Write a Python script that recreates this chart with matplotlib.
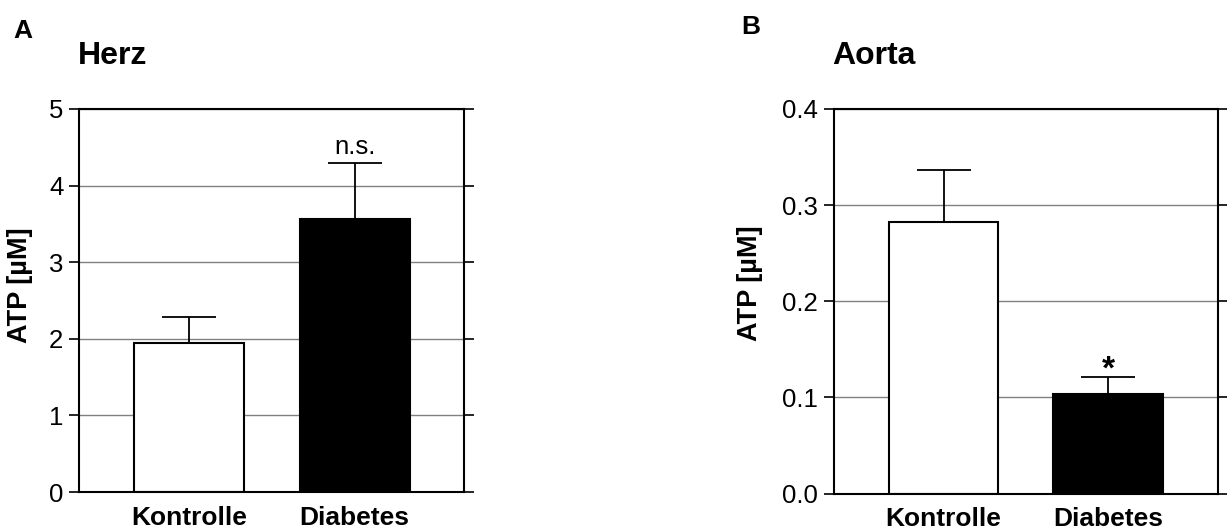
import matplotlib
matplotlib.use("Agg")
import matplotlib.pyplot as plt

plt.rcParams['font.family'] = ['Liberation Sans', 'DejaVu Sans']

# Daten
kategorien = ['Kontrolle', 'Diabetes']

herz_mittel = [1.95, 3.57]
herz_fehler = [0.33, 0.72]
herz_ticks = [0, 1, 2, 3, 4, 5]
herz_ticklabels = ['0', '1', '2', '3', '4', '5']
herz_sig = 'n.s.'

aorta_mittel = [0.282, 0.103]
aorta_fehler = [0.055, 0.018]
aorta_ticks = [0.0, 0.1, 0.2, 0.3, 0.4]
aorta_ticklabels = ['0.0', '0.1', '0.2', '0.3', '0.4']
aorta_sig = '*'

farben = ['white', 'black']


def zeichne_panel(ax, mittel, fehler, ticks, ticklabels,
                  sig, sig_bold, sig_size, sig_offset, label_x, label_y):
    x = list(range(len(kategorien)))
    # Gitterlinien hinter den Balken
    for t in ticks:
        ax.axhline(t, color='#808080', linewidth=1.0, zorder=0)
    ax.bar(x, mittel, width=0.665, color=farben, edgecolor='black',
           linewidth=1.5, zorder=2)
    ax.errorbar(x, mittel, yerr=[[0] * len(x), fehler], fmt='none',
                ecolor='black', elinewidth=1.3, capsize=19.5, capthick=1.3,
                zorder=1)
    ax.set_xlim(-0.665, 1.664)
    ax.set_ylim(ticks[0], ticks[-1])
    ax.set_yticks(ticks)
    ax.set_yticklabels(ticklabels)
    ax.set_xticks(x)
    ax.set_xticklabels(kategorien, fontsize=19, fontweight='bold')
    ax.tick_params(axis='x', length=0, pad=10)
    ax.tick_params(axis='y', direction='out', length=7.5, width=1.2,
                   labelsize=18.5, pad=4, right=True)
    for s in ax.spines.values():
        s.set_linewidth(1.5)
        s.set_color('black')
    ax.set_ylabel('ATP [µM]', fontsize=19.5, fontweight='bold')
    ax.yaxis.set_label_coords(label_x, label_y)
    # Signifikanz über dem Fehlerbalken von Diabetes
    top = mittel[1] + fehler[1]
    ax.annotate(sig, xy=(1, top), xytext=(0, sig_offset),
                textcoords='offset points', ha='center', va='baseline',
                fontsize=sig_size, fontweight='bold' if sig_bold else 'normal')


fig = plt.figure(figsize=(12.27, 5.31), dpi=100)

ax_a = fig.add_axes([79.3 / 1227, 1 - 492 / 531, 385 / 1227, 383 / 531])
zeichne_panel(ax_a, herz_mittel, herz_fehler, herz_ticks, herz_ticklabels,
              herz_sig, False, 18.5, 6.8, -0.12, 0.54)

ax_b = fig.add_axes([834 / 1227, 1 - 493.5 / 531, 383.5 / 1227, 384.5 / 531])
zeichne_panel(ax_b, aorta_mittel, aorta_fehler, aorta_ticks, aorta_ticklabels,
              aorta_sig, True, 24, -1.0, -0.185, 0.546)

fig.text(13 / 1227, 1 - 30.5 / 531, 'A', fontsize=19, fontweight='bold', va='center')
fig.text(78 / 1227, 1 - 56.5 / 531, 'Herz', fontsize=23, fontweight='bold', va='center')
fig.text(741 / 1227, 1 - 27 / 531, 'B', fontsize=19, fontweight='bold', va='center')
fig.text(832 / 1227, 1 - 56 / 531, 'Aorta', fontsize=23, fontweight='bold', va='center')

fig.savefig('out.png', dpi=100)
